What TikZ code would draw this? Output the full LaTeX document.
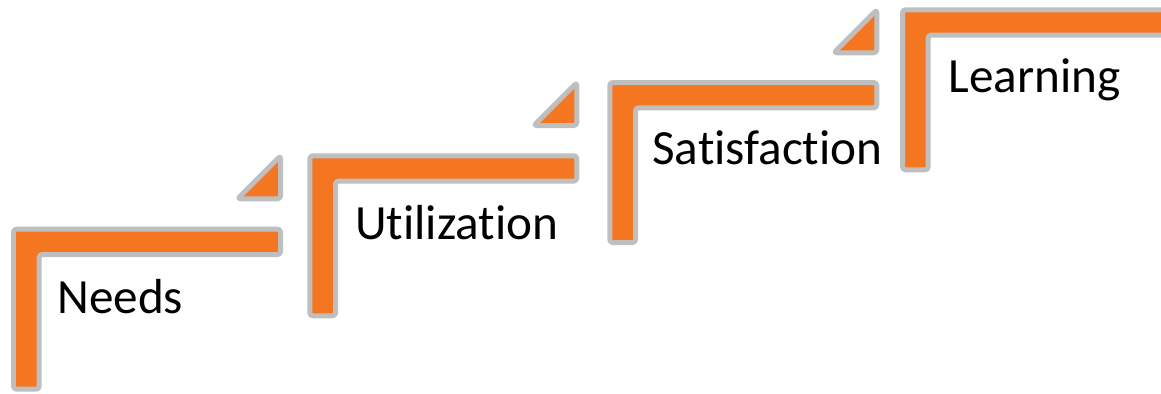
\documentclass[tikz,border=0pt]{standalone}
\usepackage{fontspec}
\setmainfont[Ligatures={NoCommon,NoRare,NoContextual}]{Carlito}
\usepackage{tikz}
\usetikzlibrary{positioning}

\definecolor{stairorange}{RGB}{244,118,33}
\definecolor{stairgray}{RGB}{191,191,191}

\begin{document}
\begin{tikzpicture}
[x=0.02cm, y=-0.02cm,
 stair/.style={draw=stairgray,fill=stairorange,line width=0.1cm,rounded corners=0.06cm,line join=round},
 stepnote/.style={stair},
 steptext/.style={anchor=base west,inner sep=0pt,font=\fontsize{28}{34}\selectfont}]

\useasboundingbox (0,0) rectangle (1161,393);
\clip (0,0) rectangle (1161,393);

\draw [stair] (13.5,229.2) -- ++(267,0) -- ++(0,25.3) -- ++(-241.3,0)
	-- ++(0,134.7) -- ++(-25.7,0) -- cycle;
\draw [stepnote] (237.5,198.8) -- ++(43,-43) -- ++(0,43) -- cycle;
\draw (57,313) node (needs) [steptext] {Needs};

\draw [stair] (309.8,155.8) -- ++(267,0) -- ++(0,25.3) -- ++(-241.3,0)
	-- ++(0,134.7) -- ++(-25.7,0) -- cycle;
\draw [stepnote] (533.8,125.5) -- ++(43,-43) -- ++(0,43) -- cycle;
\draw (355,239) node (util) [steptext] {Utilization};

\draw [stair] (609.8,82.5) -- ++(267,0) -- ++(0,25.3) -- ++(-241.3,0)
	-- ++(0,134.7) -- ++(-25.7,0) -- cycle;
\draw [stepnote] (833.8,52.8) -- ++(43,-43) -- ++(0,43) -- cycle;
\draw (652,164.3) node (satis) [steptext] {Satisfaction};

\draw [stair] (902.5,9.8) -- ++(267,0) -- ++(0,25.3) -- ++(-241.3,0)
	-- ++(0,134.7) -- ++(-25.7,0) -- cycle;
\draw (948,92.3) node (learn) [steptext] {Learning};
\end{tikzpicture}
\end{document}
